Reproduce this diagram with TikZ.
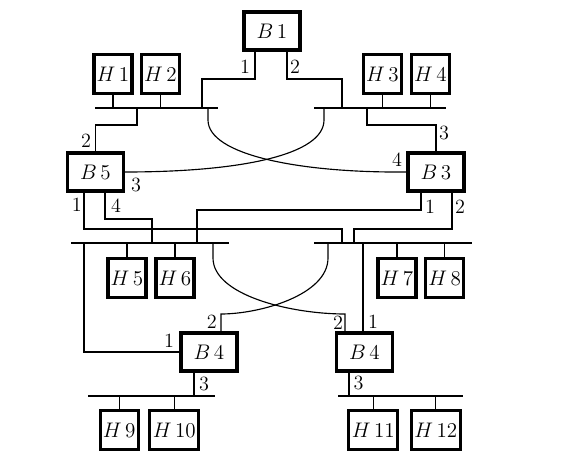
\documentclass[tikz,border=0pt]{standalone}
\usetikzlibrary{positioning}

\begin{document}
\begin{tikzpicture}[x=0.02cm, y=-0.02cm,
    every node/.style={font=\fontsize{11.5}{13}\selectfont},
    box/.style={draw, line width=1.8pt, minimum width=1.12cm, minimum height=0.76cm, inner sep=0pt},
    host/.style={box, minimum width=0.76cm, minimum height=0.78cm},
    widehost/.style={host, minimum width=0.98cm},
    port/.style={inner sep=0pt},
    wire/.style={line width=0.65pt}
]
\useasboundingbox (0,0) rectangle (584,462);

% bridges
\node[box] (B1) at (272,31) {$B\,1$};
\node[box] (B5) at (95.5,172) {$B\,5$};
\node[box] (B3) at (436,172) {$B\,3$};
\node[box] (B4a) at (209,352) {$B\,4$};
\node[box] (B4b) at (364.3,352) {$B\,4$};

% hosts
\node[host] (H1) at (113,74) {$H\,1$};
\node[host] (H2) at (160.3,74) {$H\,2$};
\node[host] (H3) at (382.3,74) {$H\,3$};
\node[host] (H4) at (430.3,74) {$H\,4$};
\node[host] (H5) at (127,278) {$H\,5$};
\node[host] (H6) at (175,278) {$H\,6$};
\node[host] (H7) at (397,278) {$H\,7$};
\node[host] (H8) at (444.7,278) {$H\,8$};
\node[host] (H9) at (119.2,430.3) {$H\,9$};
\node[widehost] (H10) at (174.2,430.3) {$H\,10$};
\node[widehost] (H11) at (373.3,430.3) {$H\,11$};
\node[widehost] (H12) at (435.8,430.3) {$H\,12$};

% bus ends
\coordinate (s1a) at (95,108);  \coordinate (s1b) at (218,108);
\coordinate (s2a) at (314,108); \coordinate (s2b) at (446,108);
\coordinate (s3a) at (71,243);  \coordinate (s3b) at (229,243);
\coordinate (s4a) at (314,243); \coordinate (s4b) at (472,243);
\coordinate (s5a) at (88,396);  \coordinate (s5b) at (215,396);
\coordinate (s6a) at (338,396); \coordinate (s6b) at (463,396);

% taps
\coordinate (tA) at (202,108); \coordinate (tB) at (342,108);
\coordinate (tC) at (137,108); \coordinate (tD) at (367,108);
\coordinate (tE) at (208,108); \coordinate (tF) at (324,108);
\coordinate (tG) at (342,243); \coordinate (tH) at (152,243);
\coordinate (tI) at (197,243); \coordinate (tJ) at (354,243);
\coordinate (tK) at (84,243);  \coordinate (tL) at (213,243);
\coordinate (tM) at (328,243); \coordinate (tN) at (363,243);
\coordinate (tP) at (194,396); \coordinate (tQ) at (349,396);

\begin{scope}[wire]
\foreach \a/\b in {s1a/s1b, s2a/s2b, s3a/s3b, s4a/s4b, s5a/s5b, s6a/s6b}
    \draw (\a) -- (\b);
\foreach \h/\s in {H1/s1a, H2/s1a, H3/s2a, H4/s2a, H5/s3a, H6/s3a, H7/s4a, H8/s4a,
                   H9/s5a, H10/s5a, H11/s6a, H12/s6a}
    \draw (\h) -- (\h |- \s);

\draw (B1.south -| 255,0) -- (255,79) -| (tA);
\draw (B1.south -| 287,0) -- (287,79) -| (tB);
\draw (B5.north) -- (95.5,125) -| (tC);
\draw (B3.north) -- (436,125) -| (tD);
\draw (tE) -- (208,120) .. controls (208,155) and (300,173) .. (B3.west);
\draw (tF) -- (324,120) .. controls (324,155) and (240,172) .. (B5.east);
\draw (B5.south -| 84,0) -- (84,229) -| (tG);
\draw (B5.south -| 105,0) -- (105,219) -| (tH);
\draw (B3.south -| 421,0) -- (421,210) -| (tI);
\draw (B3.south -| 452,0) -- (452,229) -| (tJ);
\draw (tK) |- (B4a.west);
\draw (tL) -- (213,258) .. controls (213,295) and (290,314) .. (345,314) -- (B4b.north -| 345,0);
\draw (tM) -- (328,258) .. controls (328,295) and (260,314) .. (221,314) -- (B4a.north -| 221,0);
\draw (tN) -- (tN |- B4b.north);
\draw (B4a.south -| tP) -- (tP);
\draw (B4b.south -| tQ) -- (tQ);
\end{scope}

% port numbers
\node[port] (p11) at (245,67) {1};
\node[port] (p12) at (295,67) {2};
\node[port] (p52) at (86,141) {2};
\node[port] (p53) at (136,185) {3};
\node[port] (p33) at (444,133) {3};
\node[port] (p34) at (397,160) {4};
\node[port] (p51) at (76.7,205) {1};
\node[port] (p54) at (116,206) {4};
\node[port] (p31) at (430,207) {1};
\node[port] (p32) at (460,207) {2};
\node[port] (pa2) at (211.7,322) {2};
\node[port] (pa1) at (169,341) {1};
\node[port] (pa3) at (204,384) {3};
\node[port] (pb2) at (338,323) {2};
\node[port] (pb1) at (373,322) {1};
\node[port] (pb3) at (358.5,383) {3};
\end{tikzpicture}
\end{document}
